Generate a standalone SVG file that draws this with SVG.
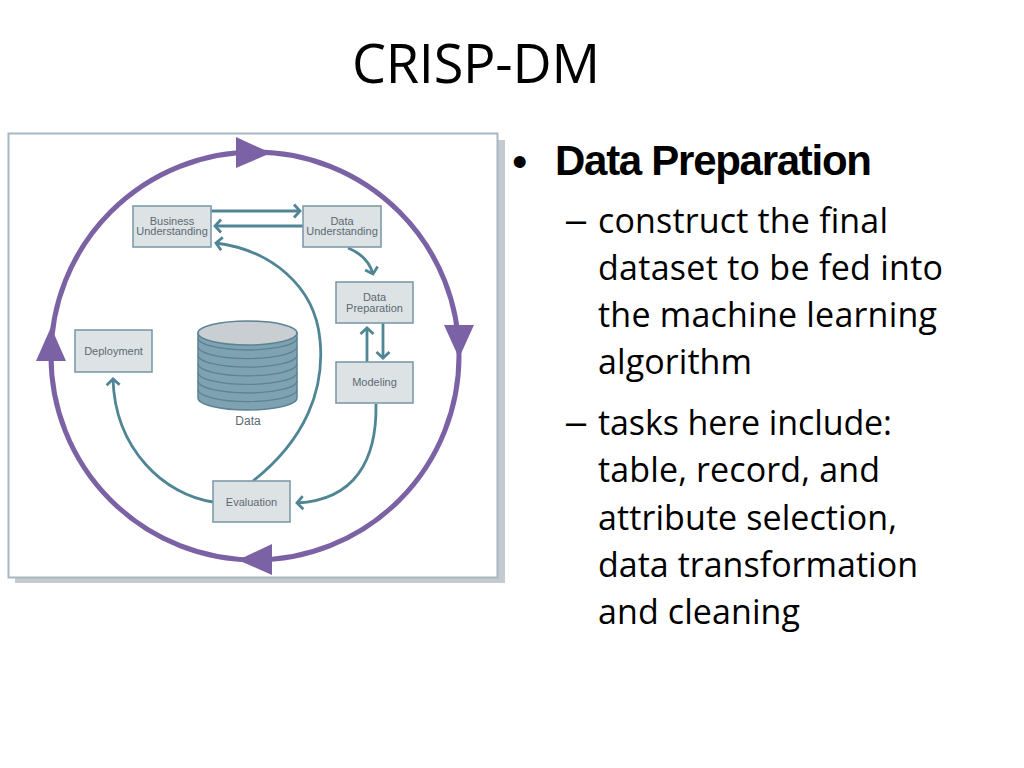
<svg xmlns="http://www.w3.org/2000/svg" width="1024" height="768" viewBox="0 0 1024 768">
<defs>
<style>
.node rect{fill:#dde2e5;stroke:#7e9cac;stroke-width:1.6}
.node text{font-family:"Liberation Sans",Arial,sans-serif;font-size:11px;fill:#5b6a72;text-anchor:middle}
.conn path{fill:none;stroke:#4f8595;stroke-width:2.8}
.ring{fill:none;stroke:#7b62a4;stroke-width:5}
.tri{fill:#7b62a4}
.body{font-family:"Open Sans","Liberation Sans",sans-serif;font-size:34px;fill:#000}
</style>
<marker id="chev" viewBox="-10 -10 20 20" markerWidth="20" markerHeight="20" markerUnits="userSpaceOnUse" orient="auto" refX="0" refY="0">
<path d="M -6 -6.5 L 0 0 L -6 6.5" fill="none" stroke="#4f8595" stroke-width="2.8"/>
</marker>
</defs>
<rect width="1024" height="768" fill="#ffffff"/>

<!-- title -->
<text x="352" y="83" font-family="Open Sans, Liberation Sans, sans-serif" font-size="54" textLength="248" fill="#000">CRISP-DM</text>

<!-- picture frame -->
<g id="frame">
<rect x="15" y="140" width="490" height="443" fill="#c3cad0"/>
<rect x="8.5" y="133.5" width="489" height="444" fill="#ffffff" stroke="#a8b7c1" stroke-width="2"/>
</g>

<!-- outer cycle -->
<g id="cycle">
<circle class="ring" cx="255" cy="356" r="204"/>
<polygon class="tri" points="236,137 236,168 271,153"/>
<polygon class="tri" points="444,325 474,325 459,358"/>
<polygon class="tri" points="272,544 272,575 238,560"/>
<polygon class="tri" points="36,361 66,361 51,327"/>
</g>

<!-- database -->
<g id="data">
<path d="M198 333 L198 398 A49.5 12 0 0 0 297 398 L297 333 Z" fill="#7fa2b3" stroke="#5a8394" stroke-width="1.5"/>
<g fill="none" stroke="#5a8394" stroke-width="1.3">
<path d="M198 338 A49.5 12 0 0 0 297 338"/>
<path d="M198 346.6 A49.5 12 0 0 0 297 346.6"/>
<path d="M198 355.2 A49.5 12 0 0 0 297 355.2"/>
<path d="M198 363.8 A49.5 12 0 0 0 297 363.8"/>
<path d="M198 372.4 A49.5 12 0 0 0 297 372.4"/>
<path d="M198 381 A49.5 12 0 0 0 297 381"/>
<path d="M198 389.6 A49.5 12 0 0 0 297 389.6"/>
</g>
<ellipse cx="247.5" cy="333" rx="49.5" ry="12" fill="#c9ced2" stroke="#5a8394" stroke-width="1.5"/>
<text x="248" y="425" font-family="Liberation Sans, Arial, sans-serif" font-size="12" fill="#5b6a72" text-anchor="middle">Data</text>
</g>

<!-- connectors -->
<g class="conn" id="connectors">
<path d="M211 211 L300 211" marker-end="url(#chev)"/>
<path d="M303 226 L215 226" marker-end="url(#chev)"/>
<path d="M253 481 C305 440 325 390 320 340 C315 285 270 250 216 243" marker-end="url(#chev)"/>
<path d="M348 248 Q368 256 373 274" marker-end="url(#chev)"/>
<path d="M383 323 L383 358" marker-end="url(#chev)"/>
<path d="M367 362 L367 328" marker-end="url(#chev)"/>
<path d="M376 404 C377 460 355 500 297 503" marker-end="url(#chev)"/>
<path d="M213 502 C165 495 115 450 113 379" marker-end="url(#chev)"/>
</g>

<!-- nodes -->
<g class="node" id="business-understanding">
<rect x="133" y="206" width="78" height="41"/>
<text x="172" y="225">Business</text>
<text x="172" y="235">Understanding</text>
</g>
<g class="node" id="data-understanding">
<rect x="303" y="206" width="78" height="41"/>
<text x="342" y="225">Data</text>
<text x="342" y="235">Understanding</text>
</g>
<g class="node" id="data-preparation">
<rect x="336" y="282" width="77" height="41"/>
<text x="374.5" y="301">Data</text>
<text x="374.5" y="311.5">Preparation</text>
</g>
<g class="node" id="modeling">
<rect x="336" y="362" width="77" height="41"/>
<text x="374.5" y="386">Modeling</text>
</g>
<g class="node" id="deployment">
<rect x="75" y="330" width="77" height="42"/>
<text x="113.5" y="355">Deployment</text>
</g>
<g class="node" id="evaluation">
<rect x="213" y="481" width="77" height="41"/>
<text x="251.5" y="506">Evaluation</text>
</g>

<!-- bullet text -->
<g id="bullets">
<text x="512" y="177" font-family="Liberation Sans, Arial, sans-serif" font-size="44" fill="#000">•</text>
<text x="555" y="175" font-family="Liberation Sans, Arial, sans-serif" font-size="42" font-weight="bold" textLength="317" fill="#000">Data Preparation</text>
<text class="body" x="564" y="232" textLength="24" lengthAdjust="spacingAndGlyphs">–</text>
<text class="body" x="598" y="233" textLength="290">construct the final</text>
<text class="body" x="598" y="280" textLength="345">dataset to be fed into</text>
<text class="body" x="598" y="327" textLength="339">the machine learning</text>
<text class="body" x="598" y="374" textLength="154">algorithm</text>
<text class="body" x="564" y="434" textLength="24" lengthAdjust="spacingAndGlyphs">–</text>
<text class="body" x="598" y="435" textLength="294">tasks here include:</text>
<text class="body" x="598" y="482" textLength="282">table, record, and</text>
<text class="body" x="598" y="530" textLength="299">attribute selection,</text>
<text class="body" x="598" y="577" textLength="320">data transformation</text>
<text class="body" x="598" y="624" textLength="202">and cleaning</text>
</g>
</svg>
